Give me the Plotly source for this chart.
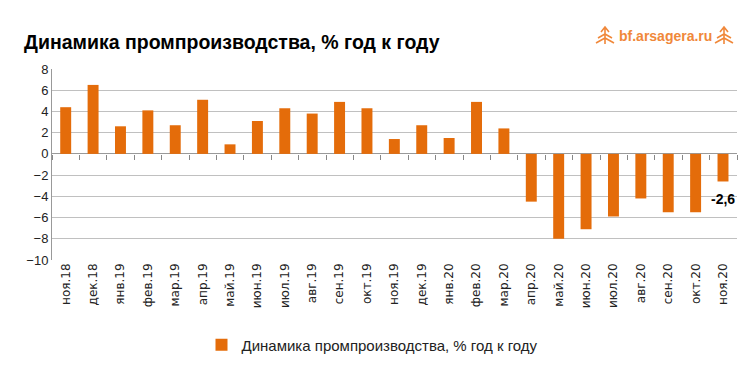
import plotly.graph_objects as go

categories = ["ноя.18", "дек.18", "янв.19", "фев.19", "мар.19", "апр.19", "май.19", "июн.19",
              "июл.19", "авг.19", "сен.19", "окт.19", "ноя.19", "дек.19", "янв.20", "фев.20",
              "мар.20", "апр.20", "май.20", "июн.20", "июл.20", "авг.20", "сен.20", "окт.20", "ноя.20"]
values = [4.4, 6.5, 2.6, 4.1, 2.7, 5.1, 0.9, 3.1, 4.3, 3.8, 4.9, 4.3, 1.4, 2.7, 1.5, 4.9,
          2.4, -4.5, -8.0, -7.1, -5.9, -4.2, -5.5, -5.5, -2.6]
last_label = "-2,6"
series_name = "Динамика промпроизводства, % год к году"
title = "Динамика промпроизводства, % год к году"
y_ticks = [8, 6, 4, 2, 0, -2, -4, -6, -8, -10]
y_range = [-10, 8]

W, H = 748, 372
ML, MR, MT, MB = 52, 11, 69, 112
pw = W - ML - MR
ph = H - MT - MB


def px_x(x):
    return (x - ML) / pw


def px_y(y):
    return (H - MB - y) / ph


n = len(categories)
idx = list(range(n))
boundaries = [i - 0.5 for i in range(n + 1)]

fig = go.Figure()
fig.add_trace(go.Bar(
    x=categories, y=values, name=series_name,
    marker=dict(color="#E46C0A", line=dict(width=0)),
))
# invisible helper so the zero-line tick axis is drawn
fig.add_trace(go.Scatter(
    x=idx, y=values, xaxis="x2", mode="markers", marker=dict(opacity=0),
    showlegend=False, hoverinfo="skip",
))

fig.update_layout(
    width=W, height=H,
    margin=dict(l=ML, r=MR, t=MT, b=MB),
    paper_bgcolor="white", plot_bgcolor="white",
    bargap=0.6,
    showlegend=True,
    legend=dict(orientation="h", x=0.5 - 22 / pw, xanchor="center", y=px_y(345), yanchor="middle",
                font=dict(family="Liberation Sans", size=15, color="#222")),
    xaxis=dict(type="category", tickangle=-90, showgrid=False, automargin=False,
               tickfont=dict(family="DejaVu Sans", size=12, color="#222"),
               ticks="", showline=False),
    xaxis2=dict(range=[-0.5, n - 0.5], overlaying="x", anchor="free",
                position=(0 - y_range[0]) / (y_range[1] - y_range[0]),
                side="bottom", tickvals=boundaries, ticks="outside", ticklen=5, tickwidth=1,
                tickcolor="#888888", showticklabels=False, showgrid=False,
                showline=False, zeroline=False, automargin=False),
    yaxis=dict(range=y_range, tickvals=y_ticks, showgrid=True, gridcolor="#C0C0C0", gridwidth=1,
               zeroline=True, zerolinecolor="#999999", zerolinewidth=1, automargin=False,
               showline=True, linecolor="#999999", ticks="",
               tickfont=dict(family="Liberation Sans", size=13, color="#222")),
    annotations=[
        dict(text=last_label, x=categories[-1], y=values[-1], xref="x", yref="y",
             showarrow=False, xanchor="center", yanchor="middle", yshift=-18,
             font=dict(family="Liberation Sans", size=14, color="black", weight="bold")),
        dict(text=title, x=px_x(22), y=px_y(42), xref="paper", yref="paper", showarrow=False,
             xanchor="left", yanchor="middle",
             font=dict(family="Liberation Sans", size=19.5, color="black", weight="bold")),
        dict(text="bf.arsagera.ru", x=px_x(665), y=px_y(36), xref="paper", yref="paper",
             showarrow=False, xanchor="center", yanchor="middle",
             font=dict(family="Liberation Sans", size=14, color="#F0883A", weight="bold")),
    ],
)


def logo_icon(cx, cy):
    # simple arrow emblem (decorative)
    x0, y0 = px_x(cx), px_y(cy)
    sx, sy = 1 / pw, 1 / ph
    path = (f"M {x0} {y0 - 8 * sy} L {x0} {y0 + 8 * sy} "
            f"M {x0 - 4 * sx} {y0 + 4 * sy} L {x0} {y0 + 9 * sy} L {x0 + 4 * sx} {y0 + 4 * sy} "
            f"M {x0 - 9 * sx} {y0 - 7 * sy} L {x0} {y0 - 2 * sy} L {x0 + 9 * sx} {y0 - 7 * sy} "
            f"M {x0 - 7 * sx} {y0 - 2 * sy} L {x0} {y0 + 2 * sy} L {x0 + 7 * sx} {y0 - 2 * sy}")
    return dict(type="path", path=path, xref="paper", yref="paper",
                line=dict(color="#F0883A", width=1.6))


fig.update_layout(shapes=[logo_icon(605, 36), logo_icon(724, 36)])

fig.write_html("out.html", config={"displayModeBar": False},
               post_script="document.body.style.margin='0';document.body.style.padding='0';")
